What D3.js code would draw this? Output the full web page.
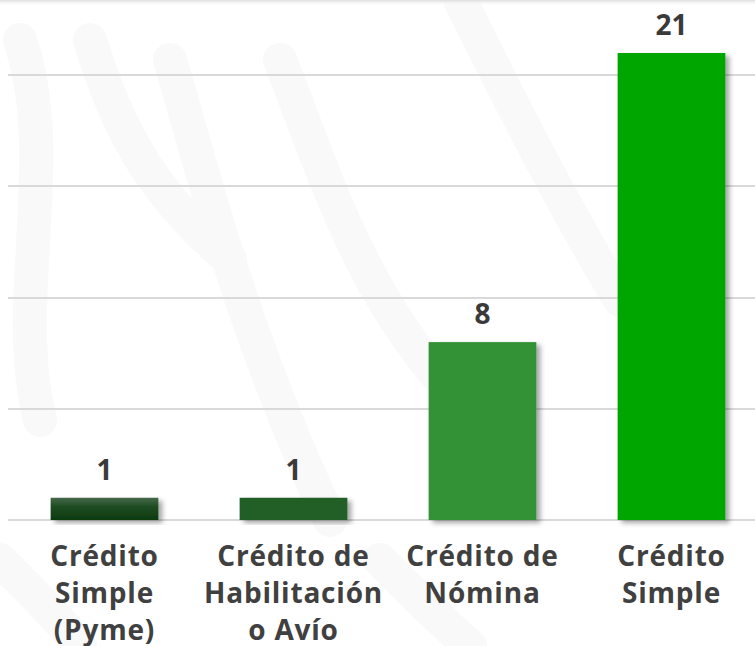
<!DOCTYPE html>
<html lang="es">
<head>
  <meta charset="UTF-8">
  <title>Créditos</title>
  <script src="https://d3js.org/d3.v7.min.js"></script>
  <style>
    body { margin: 0; background: #fff; }
    svg { display: block; font-family: "Open Sans", sans-serif; }
    .grid line { stroke: #d9d9d9; stroke-width: 2px; }
    .value { font-size: 28px; font-weight: 700; fill: #3a3a3a; }
    .cat { font-size: 28px; font-weight: 700; fill: #404040; letter-spacing: 0.8px; }
    .mark path { fill: none; stroke: #f9f9f9; stroke-width: 34px; stroke-linecap: round; }
  </style>
</head>
<body>
  <svg id="chart"></svg>
  <script>
    // datos
    const categories = [
      ["Crédito", "Simple", "(Pyme)"],
      ["Crédito de", "Habilitación", "o Avío"],
      ["Crédito de", "Nómina"],
      ["Crédito", "Simple"]
    ];
    const values = [1, 1, 8, 21];
    const gridTicks = [0, 5, 10, 15, 20];
    const colors = ["url(#gradPyme)", "#215f26", "#339235", "#00a600"];

    const width = 755, height = 646;
    const baseY = 520;

    const svg = d3.select("#chart")
      .attr("width", width)
      .attr("height", height);

    const defs = svg.append("defs");
    const grad = defs.append("linearGradient")
      .attr("id", "gradPyme")
      .attr("x1", 0).attr("y1", 0).attr("x2", 0).attr("y2", 1);
    grad.append("stop").attr("offset", "0%").attr("stop-color", "#45684a");
    grad.append("stop").attr("offset", "40%").attr("stop-color", "#1f4d23");
    grad.append("stop").attr("offset", "100%").attr("stop-color", "#0c3a0f");

    const shadow = defs.append("filter")
      .attr("id", "shadow")
      .attr("x", "-10%").attr("y", "-10%")
      .attr("width", "130%").attr("height", "130%");
    shadow.append("feDropShadow")
      .attr("dx", 4).attr("dy", 3)
      .attr("stdDeviation", 2.5)
      .attr("flood-color", "#000")
      .attr("flood-opacity", 0.35);

    // marca de agua tenue
    const wm = svg.append("g").attr("class", "mark");
    wm.append("path").attr("d", "M20,40 C60,160 10,300 40,420");
    wm.append("path").attr("d", "M90,40 C120,140 160,200 230,260");
    wm.append("path").attr("d", "M170,60 C200,160 240,330 330,520");
    wm.append("path").attr("d", "M280,60 C320,160 360,300 460,400");
    wm.append("path").attr("d", "M460,0 C520,120 560,200 620,300");
    wm.append("path").attr("d", "M0,560 C40,600 60,620 80,646");
    wm.append("path").attr("d", "M380,560 C420,600 440,620 470,646");

    // sombra superior
    const topGrad = defs.append("linearGradient")
      .attr("id", "topShade").attr("x1", 0).attr("y1", 0).attr("x2", 0).attr("y2", 1);
    topGrad.append("stop").attr("offset", "0%").attr("stop-color", "#ddd");
    topGrad.append("stop").attr("offset", "100%").attr("stop-color", "#fff").attr("stop-opacity", 0);
    svg.append("rect").attr("width", width).attr("height", 6).attr("fill", "url(#topShade)");

    const x = d3.scaleBand()
      .domain(d3.range(values.length))
      .range([10, 766])
      .paddingInner(0.43)
      .paddingOuter(0.215);

    const y = d3.scaleLinear()
      .domain([0, 21])
      .range([baseY, 53]);

    // líneas de cuadrícula
    svg.append("g").attr("class", "grid")
      .selectAll("line")
      .data(gridTicks)
      .enter().append("line")
      .attr("x1", 8)
      .attr("x2", width)
      .attr("y1", d => Math.round(y(d)))
      .attr("y2", d => Math.round(y(d)));

    // barras
    svg.append("g")
      .selectAll("rect")
      .data(values)
      .enter().append("rect")
      .attr("x", (d, i) => x(i))
      .attr("y", d => y(d))
      .attr("width", x.bandwidth())
      .attr("height", d => baseY - y(d))
      .attr("fill", (d, i) => colors[i])
      .attr("filter", "url(#shadow)");

    // etiquetas de valor
    svg.append("g")
      .selectAll("text")
      .data(values)
      .enter().append("text")
      .attr("class", "value")
      .attr("x", (d, i) => x(i) + x.bandwidth() / 2)
      .attr("y", d => y(d) - 18)
      .attr("text-anchor", "middle")
      .text(d => d);

    // etiquetas de categoría
    const cats = svg.append("g")
      .selectAll("text")
      .data(categories)
      .enter().append("text")
      .attr("class", "cat")
      .attr("text-anchor", "middle")
      .attr("x", (d, i) => x(i) + x.bandwidth() / 2)
      .attr("y", 566);
    cats.selectAll("tspan")
      .data(d => d)
      .enter().append("tspan")
      .attr("x", function () { return d3.select(this.parentNode).attr("x"); })
      .attr("dy", (d, i) => i === 0 ? 0 : 37)
      .text(d => d);
  </script>
</body>
</html>
